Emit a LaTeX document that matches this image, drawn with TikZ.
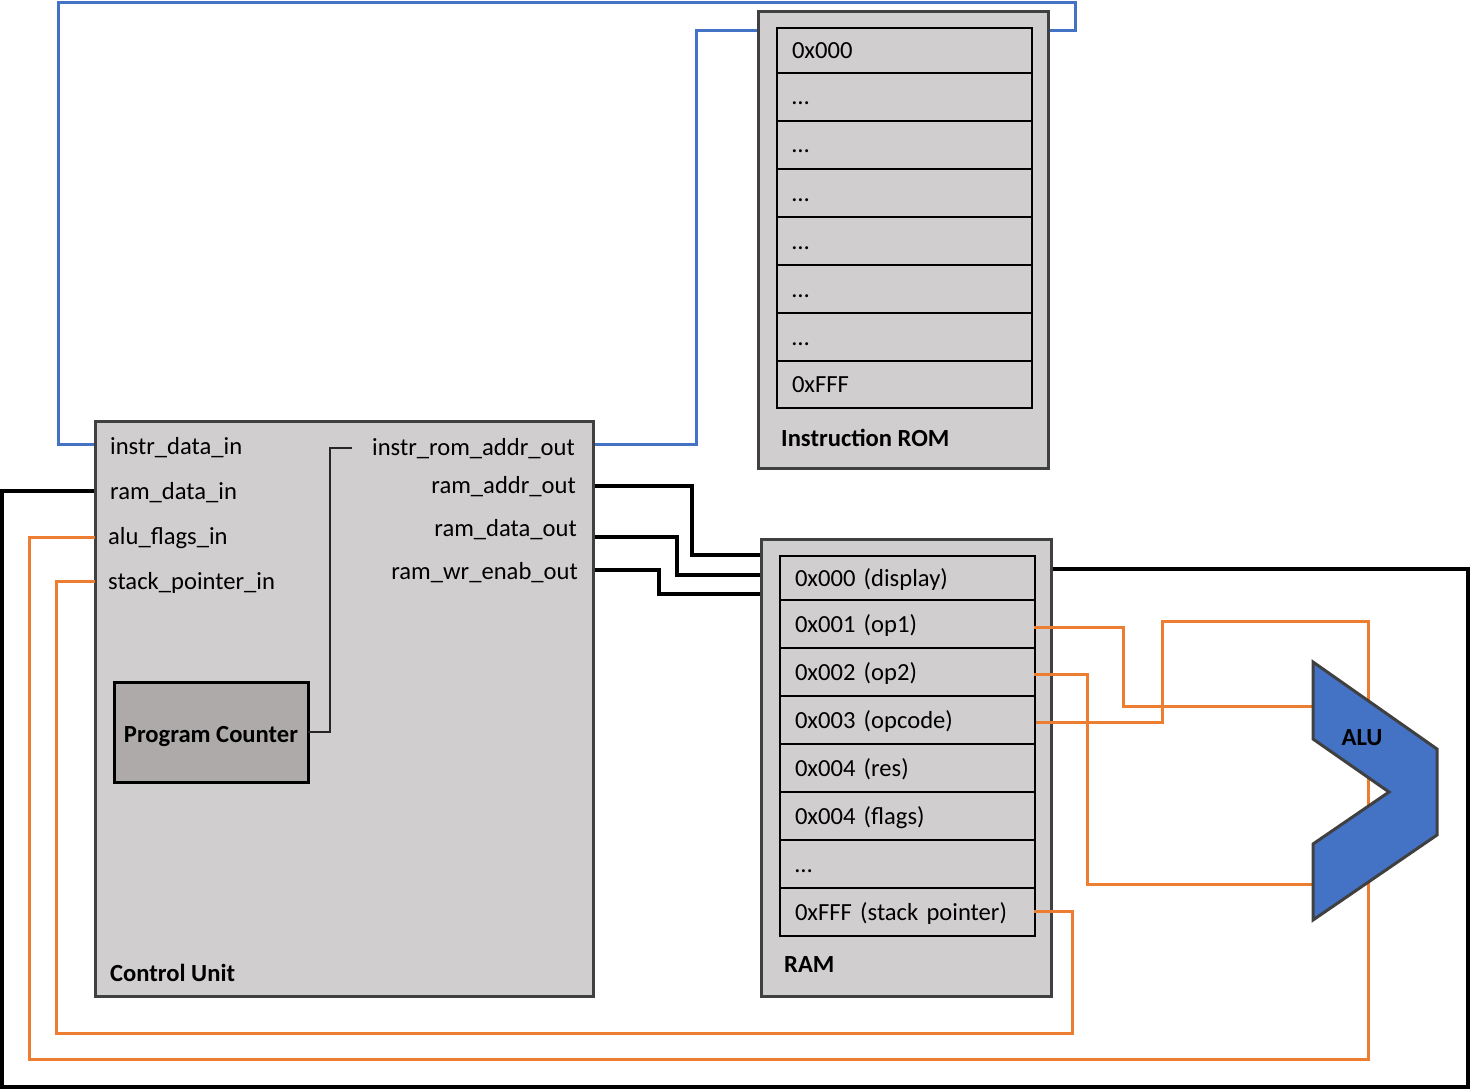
\documentclass[tikz,border=0pt]{standalone}
\usepackage{fontspec}
\setmainfont{Carlito}
\definecolor{boxgray}{HTML}{D0CECE}
\definecolor{pcgray}{HTML}{AEAAAA}
\definecolor{edgegray}{HTML}{404040}
\definecolor{orn}{HTML}{ED7D31}
\definecolor{blu}{HTML}{4472C4}
\begin{document}
\begin{tikzpicture}[x=1pt,y=-1pt,
  box/.style={draw=edgegray, line width=3pt, fill=boxgray, anchor=north west, inner sep=0pt, outer sep=0pt},
  cell/.style={draw=black, line width=2pt, fill=boxgray, anchor=north west, outer sep=0pt, inner xsep=15pt, inner ysep=0pt, text width=225pt, text height=20pt, text depth=4pt, align=left, font=\fontsize{24.6}{29}\selectfont},
  pcbox/.style={draw=black, line width=3pt, fill=pcgray, anchor=north west, inner sep=0pt, outer sep=0pt, minimum width=194pt, minimum height=100pt, text height=20pt, text depth=0pt, font=\bfseries\fontsize{24.6}{29}\selectfont},
  lbl/.style={inner sep=0pt, font=\fontsize{24.6}{29}\selectfont},
  blbl/.style={inner sep=0pt, font=\bfseries\fontsize{24.6}{29}\selectfont},
  wire/.style={line width=3.2pt, black},
  owire/.style={line width=3pt, orn},
  bwire/.style={line width=3pt, blu},
  thinwire/.style={line width=1.2pt, black!85},
  alushape/.style={draw=edgegray, line width=3pt, fill=blu, line join=miter}
]
\useasboundingbox (0,0) rectangle (1470,1089);

% ports
\coordinate (cuA) at (95,444);
\coordinate (cuB) at (95,491);
\coordinate (cuC) at (95,537);
\coordinate (cuD) at (95,581);
\coordinate (cuE) at (593,444);
\coordinate (cuF) at (593,486);
\coordinate (cuG) at (593,537);
\coordinate (cuH) at (593,570);
\coordinate (romL) at (758,31);
\coordinate (romR) at (1048,31);
\coordinate (ramA) at (761,555);
\coordinate (ramB) at (761,575);
\coordinate (ramC) at (761,594);
\coordinate (ramR) at (1051,569);
\coordinate (c1) at (1034,627);
\coordinate (c2) at (1034,674);
\coordinate (c3) at (1036,722);
\coordinate (c7) at (1034,911);
\coordinate (aluA) at (1313,706);
\coordinate (aluB) at (1313,884);
\coordinate (pcend) at (352,448);

% wires under the boxes
\draw[bwire] (cuA) -- (58,444) -- (58,3) -- (1075,3) -- (1075,31) -- (romR);
\draw[bwire] (cuE) -- (696,444) -- (696,31) -- (romL);
\draw[wire] (cuB) -- (2,491) -- (2,1087) -- (1468,1087) -- (1468,569) -- (ramR);
\draw[wire] (cuF) -- (692,486) -- (692,555) -- (ramA);
\draw[wire] (cuG) -- (677,537) -- (677,575) -- (ramB);
\draw[wire] (cuH) -- (659,570) -- (659,594) -- (ramC);

% Control unit
\node[box, minimum width=498pt, minimum height=575pt] (cu) at (95,421) {};
\node[lbl, anchor=west] (l1) at (110,448) {instr\_data\_in};
\node[lbl, anchor=west] (l2) at (110,493) {ram\_data\_in};
\node[lbl, anchor=west] (l3) at (108,538) {alu\_flags\_in};
\node[lbl, anchor=west] (l4) at (108,583) {stack\_pointer\_in};
\node[lbl, anchor=east] (r1) at (575,449) {instr\_rom\_addr\_out};
\node[lbl, anchor=east] (r2) at (576,487) {ram\_addr\_out};
\node[lbl, anchor=east] (r3) at (577,530) {ram\_data\_out};
\node[lbl, anchor=east] (r4) at (578,573) {ram\_wr\_enab\_out};
\node[blbl, anchor=west] (cul) at (110,973) {Control Unit};
\node[pcbox] (pc) at (114,682) {Program Counter};
\draw[thinwire] (pc.east) -- (330,732) -- (330,448) -- (pcend);

% Instruction ROM
\node[box, minimum width=290pt, minimum height=456pt] (rom) at (758,12) {};
\node[cell, minimum height=45pt] (rom0) at (777,28) {0x000};
\node[cell, minimum height=48pt] (rom1) at (777,73) {…};
\node[cell, minimum height=48pt] (rom2) at (777,121) {…};
\node[cell, minimum height=48pt] (rom3) at (777,169) {…};
\node[cell, minimum height=48pt] (rom4) at (777,217) {…};
\node[cell, minimum height=48pt] (rom5) at (777,265) {…};
\node[cell, minimum height=48pt] (rom6) at (777,313) {…};
\node[cell, minimum height=47pt] (rom7) at (777,361) {0xFFF};
\node[blbl, anchor=west] (roml) at (781,438) {Instruction ROM};

% RAM
\node[box, minimum width=290pt, minimum height=457pt] (ram) at (761,539) {};
\node[cell, minimum height=44pt] (ram0) at (780,556) {0x000 (display)};
\node[cell, minimum height=48pt] (ram1) at (780,600) {0x001 (op1)};
\node[cell, minimum height=48pt] (ram2) at (780,648) {0x002 (op2)};
\node[cell, minimum height=48pt] (ram3) at (780,696) {0x003 (opcode)};
\node[cell, minimum height=48pt] (ram4) at (780,744) {0x004 (res)};
\node[cell, minimum height=48pt] (ram5) at (780,792) {0x004 (flags)};
\node[cell, minimum height=48pt] (ram6) at (780,840) {…};
\node[cell, minimum height=48pt] (ram7) at (780,888) {0xFFF (stack pointer)};
\node[blbl, anchor=west] (raml) at (784,965) {RAM};

% orange wires over the boxes
\draw[owire] (c3) -- (1162,722) -- (1162,621) -- (1368,621) -- (1368,1059) -- (29,1059) -- (29,537) -- (cuC);
\draw[owire] (c1) -- (1123,627) -- (1123,706) -- (aluA);
\draw[owire] (c2) -- (1087,674) -- (1087,884) -- (aluB);
\draw[owire] (c7) -- (1072,911) -- (1072,1033) -- (56,1033) -- (56,581) -- (cuD);

% ALU
\draw[alushape] (1313,662) -- (1437,749) -- (1437,835) -- (1313,920) -- (1313,844) -- (1389,792) -- (1313,739) -- cycle;
\node[blbl] (alul) at (1362,738) {ALU};
\end{tikzpicture}
\end{document}
